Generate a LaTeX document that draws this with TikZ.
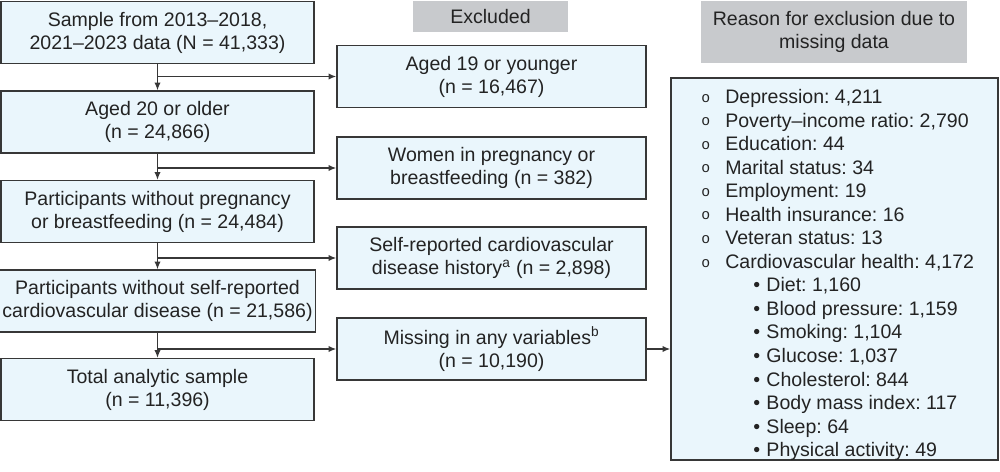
\documentclass[tikz,border=0pt]{standalone}
\usepackage{fontspec}
\setmainfont{Liberation Sans}
\newfontfamily\bulletfont{Liberation Mono}
\usetikzlibrary{arrows.meta}

\definecolor{boxfill}{RGB}{234,246,252}
\definecolor{boxline}{RGB}{55,55,55}
\definecolor{headfill}{RGB}{200,202,205}
\definecolor{txt}{RGB}{35,35,35}

\newcommand{\flowfont}{\fontsize{13.9}{16.4}\selectfont\frenchspacing}
\newcommand{\listfont}{\fontsize{13.9}{16.75}\selectfont\frenchspacing}
\newcommand{\reasonitem}[1]{\makebox[0.6cm][l]{\raisebox{0.9pt}{\fontsize{10.5}{10.5}\bulletfont o}}#1}
\newcommand{\reasonsub}[1]{\hspace*{1.3cm}\makebox[0.33cm][l]{\textbullet}#1}

\tikzset{
  flowbox/.style={draw=boxline, fill=boxfill, line width=1pt, align=center,
    inner sep=0pt, minimum width=7.825cm, minimum height=1.55cm, text=txt, font=\flowfont},
  exclbox/.style={flowbox, minimum width=7.725cm},
  headbox/.style={fill=headfill, align=center, inner sep=0pt, text=txt, font=\flowfont},
  flow/.style={line width=0.9pt, draw=boxline, -{Latex[length=5.5pt,width=4.5pt]}},
}

\begin{document}
\begin{tikzpicture}[x=0.025cm, y=-0.025cm]
\useasboundingbox (0,0) rectangle (1000,472);

%% Main path
\begin{scope}
	\node[flowbox] (sample) at (157.5,32.5) {Sample from 2013--2018,\\2021--2023 data (N = 41,333)};
	\node[flowbox] (adults) at (157.5,122) {Aged 20 or older\\(n = 24,866)};
	\node[flowbox] (nonpreg) at (157.5,211.5) {Participants without pregnancy\\or breastfeeding (n = 24,484)};
	\node[flowbox, minimum width=7.9cm] (nocvd) at (157.5,301) {Participants without self-reported\\cardiovascular disease (n = 21,586)};
	\node[flowbox] (analytic) at (157.5,389.5) {Total analytic sample\\(n = 11,396)};

	\draw[flow] (sample) -- (adults);
	\draw[flow] (adults) -- (nonpreg);
	\draw[flow] (nonpreg) -- (nocvd);
	\draw[flow] (nocvd) -- (analytic);
\end{scope}

%% Excluded
\begin{scope}
	\node[headbox, minimum width=3.875cm, minimum height=0.775cm] (exclhead) at (490.5,16.5) {Excluded};
	\node[exclbox] (young) at (491.5,76.5) {Aged 19 or younger\\(n = 16,467)};
	\node[exclbox] (pregnant) at (491.5,168) {Women in pregnancy or\\breastfeeding (n = 382)};
	\node[exclbox] (cvd) at (491.5,258) {Self-reported cardiovascular\\disease history\textsuperscript{a} (n = 2,898)};
	\node[exclbox] (missing) at (491.5,349) {Missing in any variables\textsuperscript{b}\\(n = 10,190)};

	\draw[flow] (sample.south |- young) -- (young);
	\draw[flow] (adults.south |- pregnant) -- (pregnant);
	\draw[flow] (nonpreg.south |- cvd) -- (cvd);
	\draw[flow] (nocvd.south |- missing) -- (missing);
\end{scope}

%% Reasons for missing data
\begin{scope}
	\node[headbox, minimum width=6.65cm, minimum height=1.55cm] (reasonhead) at (834,32) {Reason for exclusion due to\\missing data};
	\node[flowbox, minimum width=8.175cm, minimum height=9.55cm] (reasons) at (834.5,269) {};
	\node[anchor=north west, inner sep=0pt, align=left, text=txt, font=\listfont] (reasonlist) at (701,89) {%
		\reasonitem{Depression: 4,211}\\
		\reasonitem{Poverty--income ratio: 2,790}\\
		\reasonitem{Education: 44}\\
		\reasonitem{Marital status: 34}\\
		\reasonitem{Employment: 19}\\
		\reasonitem{Health insurance: 16}\\
		\reasonitem{Veteran status: 13}\\
		\reasonitem{Cardiovascular health: 4,172}\\
		\reasonsub{Diet: 1,160}\\
		\reasonsub{Blood pressure: 1,159}\\
		\reasonsub{Smoking: 1,104}\\
		\reasonsub{Glucose: 1,037}\\
		\reasonsub{Cholesterol: 844}\\
		\reasonsub{Body mass index: 117}\\
		\reasonsub{Sleep: 64}\\
		\reasonsub{Physical activity: 49}};

	\draw[flow] (missing) -- (reasons.west |- missing);
\end{scope}

\end{tikzpicture}
\end{document}
